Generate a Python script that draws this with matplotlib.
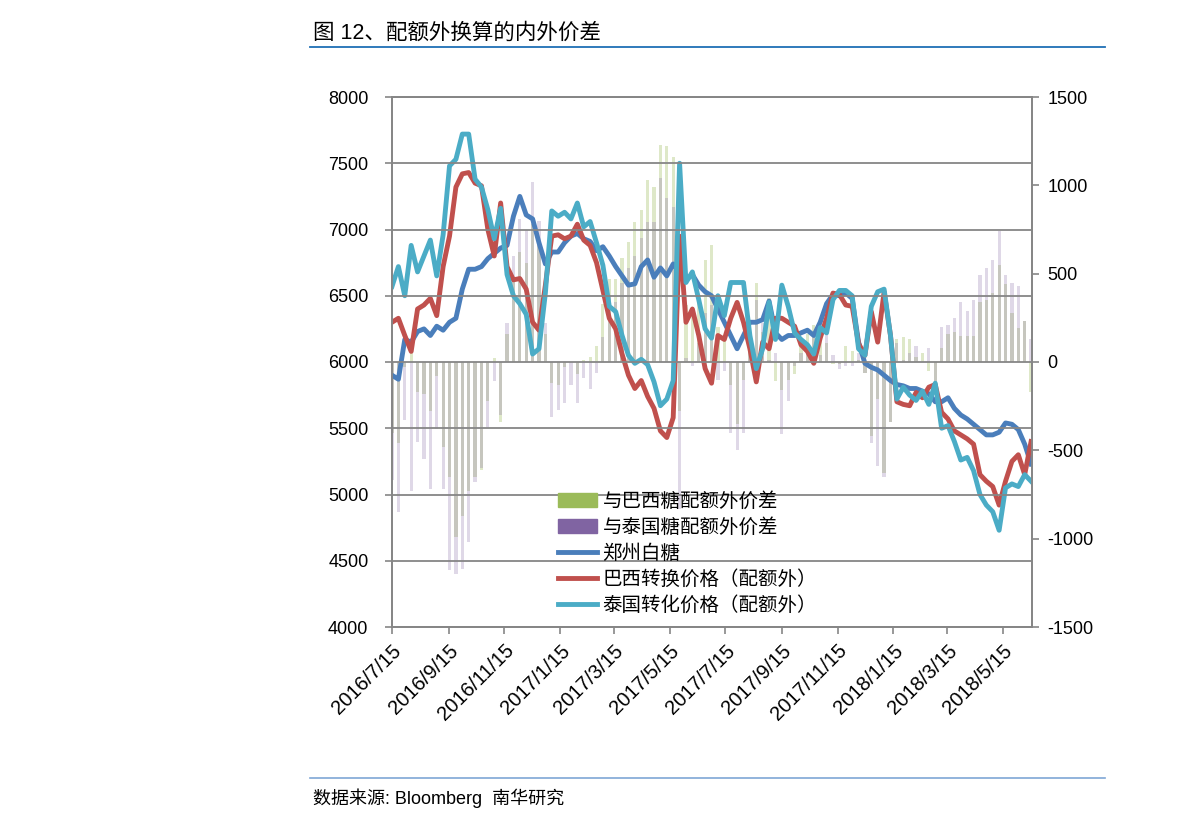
# 图12 配额外换算的内外价差
import matplotlib.pyplot as plt
import pandas as pd
from matplotlib.patches import Patch
from matplotlib.lines import Line2D

plt.rcParams['font.family'] = ['Liberation Sans', 'Noto Sans CJK SC', 'DejaVu Sans']
plt.rcParams['axes.unicode_minus'] = False

# weekly points, starting 2016/7/15
dates = pd.date_range('2016-07-15', periods=101, freq='7D')

zz_sugar = [5900, 5870, 6170, 6150, 6230, 6250, 6200, 6270, 6240, 6300,
            6330, 6550, 6700, 6700, 6720, 6780, 6820, 6860, 6880, 7100,
            7250, 7110, 7080, 6900, 6740, 6830, 6830, 6900, 6950, 6970,
            6930, 6910, 6840, 6870, 6800, 6720, 6650, 6580, 6590, 6720,
            6770, 6640, 6710, 6650, 6740, 6670, 6620, 6660, 6580, 6530,
            6500, 6400, 6300, 6200, 6100, 6200, 6300, 6300, 6320, 6460,
            6220, 6170, 6200, 6200, 6220, 6240, 6200, 6300, 6440, 6510,
            6500, 6520, 6480, 6150, 5990, 5960, 5940, 5900, 5860, 5830,
            5820, 5800, 5800, 5780, 5760, 5700, 5700, 5730, 5650, 5600,
            5570, 5530, 5490, 5450, 5450, 5470, 5540, 5530, 5490, 5380,
            5230]

brazil_conv = [6300, 6330, 6200, 6080, 6400, 6430, 6480, 6350, 6720, 6950,
               7320, 7420, 7430, 7350, 7330, 7000, 6800, 7200, 6720, 6620,
               6630, 6550, 6300, 6240, 6580, 6950, 6960, 6930, 6950, 7040,
               6920, 6880, 6750, 6540, 6330, 6250, 6060, 5900, 5800, 5860,
               5740, 5650, 5480, 5430, 5580, 6950, 6300, 6400, 6200, 5950,
               5840, 6200, 6170, 6330, 6450, 6300, 6100, 5850, 6150, 6100,
               6330, 6330, 6300, 6270, 6130, 6080, 5990, 6180, 6330, 6520,
               6510, 6430, 6420, 6140, 6050, 6380, 6150, 6530, 6200, 5700,
               5680, 5670, 5770, 5730, 5810, 5830, 5620, 5570, 5480, 5450,
               5420, 5380, 5150, 5100, 5060, 4920, 5100, 5250, 5300, 5150,
               5400]

thai_conv = [6570, 6720, 6500, 6880, 6680, 6800, 6920, 6650, 6960, 7480,
             7530, 7720, 7720, 7380, 7320, 7150, 6930, 7160, 6660, 6500,
             6440, 6360, 6060, 6100, 6520, 7140, 7100, 7130, 7080, 7200,
             7020, 7060, 6900, 6730, 6420, 6380, 6200, 6050, 5990, 6020,
             5980, 5850, 5670, 5720, 5860, 7500, 6600, 6680, 6470, 6250,
             6180, 6500, 6350, 6600, 6600, 6600, 6200, 5950, 6100, 6450,
             6170, 6580, 6420, 6220, 6170, 6130, 6060, 6260, 6220, 6470,
             6540, 6540, 6500, 6100, 6050, 6420, 6530, 6550, 6200, 5720,
             5810, 5750, 5710, 5780, 5680, 5840, 5500, 5520, 5400, 5260,
             5280, 5180, 5000, 4920, 4870, 4730, 5050, 5080, 5060, 5150,
             5100]

# spread bars (right axis)
brazil_spread = [-400, -460, -30, 70, -170, -180, -280, -80, -480, -650,
                 -990, -870, -730, -650, -610, -220, 20, -340, 160, 480,
                 620, 560, 780, 660, 160, -120, -130, -30, 0, -70,
                 10, 30, 90, 330, 470, 470, 590, 680, 790, 860,
                 1030, 990, 1230, 1220, 1160, -280, 320, 260, 380, 580,
                 660, 200, 130, -130, -350, -100, 200, 450, 170, 360,
                 -110, -160, -100, -70, 90, 160, 210, 120, 110, -10,
                 -10, 90, 60, 10, -60, -420, -210, -630, -340, 130,
                 140, 130, 30, 50, -50, -130, 80, 160, 170, 150,
                 150, 150, 340, 350, 390, 550, 440, 280, 190, 230,
                 -170]

thai_spread = [-670, -850, -330, -730, -450, -550, -720, -380, -720, -1180,
               -1200, -1170, -1020, -680, -600, -370, -110, -300, 220, 600,
               810, 750, 1020, 800, 220, -310, -270, -230, -130, -230,
               -90, -150, -60, 140, 380, 340, 450, 530, 600, 700,
               790, 790, 1040, 930, 880, -830, 20, -20, 110, 280,
               320, -100, -50, -400, -500, -400, 100, 350, 220, 10,
               50, -410, -220, -20, 50, 110, 140, 40, 220, 40,
               -40, -20, -20, 50, -60, -460, -590, -650, -340, 110,
               10, 50, 90, 0, 80, -140, 200, 210, 250, 340,
               290, 350, 490, 530, 580, 740, 490, 450, 430, 230,
               130]

labels = ['与巴西糖配额外价差', '与泰国糖配额外价差', '郑州白糖',
          '巴西转换价格（配额外）', '泰国转化价格（配额外）']
c_green, c_purple = '#9bbb59', '#8064a2'
c_blue, c_red, c_cyan = '#4a7ebb', '#c0504d', '#4bacc6'
grey = '#868686'

fig = plt.figure(figsize=(11.91, 8.27), dpi=100)
ax = fig.add_axes([392/1191, 1-627/827, 640/1191, 530/827])
ax2 = ax.twinx()
ax.set_zorder(ax2.get_zorder() + 1)
ax.patch.set_visible(False)

ax2.bar(dates, brazil_spread, width=3.5, color=c_green, alpha=0.33, linewidth=0)
ax2.bar(dates, thai_spread, width=3.5, color=c_purple, alpha=0.25, linewidth=0)

ax.plot(dates, zz_sugar, color=c_blue, lw=3.5, solid_joinstyle='round')
ax.plot(dates, brazil_conv, color=c_red, lw=3.5, solid_joinstyle='round')
ax.plot(dates, thai_conv, color=c_cyan, lw=3.5, solid_joinstyle='round')

ax.set_ylim(4000, 8000)
ax.set_yticks(range(4000, 8001, 500))
ax2.set_ylim(-1500, 1500)
ax2.set_yticks(range(-1500, 1501, 500))
ax.grid(axis='y', color=grey, lw=1.3)
ax.set_axisbelow(False)

ax.set_xlim(pd.Timestamp('2016-07-15'), pd.Timestamp('2018-06-16'))
xt = pd.date_range('2016-07-15', '2018-05-15', freq=pd.DateOffset(months=2))
ax.set_xticks(xt)
ax.set_xticklabels([f'{d.year}/{d.month}/{d.day}' for d in xt],
                   rotation=45, ha='right', rotation_mode='anchor', fontsize=14.5)

for a in (ax, ax2):
    for s in a.spines.values():
        s.set_color(grey)
        s.set_linewidth(1.3)
    a.tick_params(direction='out', length=5, color=grey, width=1.2)
ax.tick_params(axis='y', labelsize=13, pad=12)
ax2.tick_params(axis='y', labelsize=13, pad=6)
ax.tick_params(axis='x', pad=5)

handles = [Patch(color=c_green), Patch(color=c_purple),
           Line2D([], [], color=c_blue, lw=3.5),
           Line2D([], [], color=c_red, lw=3.5),
           Line2D([], [], color=c_cyan, lw=3.5)]
fig.legend(handles, labels, loc='upper left', bbox_to_anchor=(548/1191, 1-482/827),
           frameon=False, fontsize=14, handlelength=2.0, handleheight=0.7,
           labelspacing=0.38, handletextpad=0.3, borderpad=0)

# header / footer
fig.text(313/1191, 1-33/827, '图 12、配额外换算的内外价差', fontsize=15.5, va='center')
fig.add_artist(Line2D([310/1191, 1105/1191], [1-47/827]*2, color='#1f6fb5', lw=1.3))
fig.add_artist(Line2D([310/1191, 1105/1191], [1-778/827]*2, color='#7fa7d6', lw=1.2))
fig.text(313/1191, 1-798/827, '数据来源: Bloomberg  南华研究', fontsize=13, va='center')

fig.savefig('out.png', dpi=100)
